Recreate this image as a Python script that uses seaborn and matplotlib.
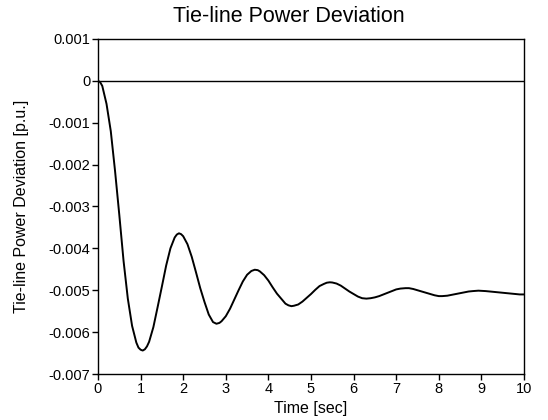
import matplotlib
matplotlib.use("Agg")
import matplotlib.pyplot as plt
import seaborn as sns
import pandas as pd

# Time samples [sec]
time_s = [0.0, 0.05, 0.1, 0.2, 0.3, 0.4, 0.5, 0.6, 0.7, 0.8, 0.9, 0.95, 1.0, 1.05, 1.1, 1.15,
          1.2, 1.3, 1.4, 1.5, 1.6, 1.7, 1.8, 1.85, 1.9, 1.95,
          2.0, 2.1, 2.2, 2.3, 2.4, 2.5, 2.6, 2.7, 2.78, 2.85,
          2.9, 3.0, 3.1, 3.2, 3.3, 3.4, 3.5, 3.6, 3.68, 3.75,
          3.8, 3.9, 4.0, 4.1, 4.2, 4.3, 4.4, 4.47, 4.54,
          4.6, 4.7, 4.8, 4.9, 5.0, 5.1, 5.2, 5.3, 5.37, 5.44,
          5.5, 5.6, 5.7, 5.8, 5.9, 6.0, 6.1, 6.2, 6.3,
          6.4, 6.5, 6.6, 6.7, 6.8, 6.9, 7.0, 7.1, 7.22,
          7.3, 7.4, 7.5, 7.6, 7.7, 7.8, 7.9, 8.0, 8.08,
          8.2, 8.3, 8.4, 8.5, 8.6, 8.7, 8.8, 8.93,
          9.1, 9.3, 9.5, 9.7, 9.9, 10.0]

# Tie-line power deviation in units of 0.001 p.u.
dev_milli = [0.0, -0.03, -0.12, -0.55, -1.2, -2.15, -3.2, -4.3, -5.2, -5.85, -6.25, -6.37, -6.42, -6.44, -6.41, -6.34,
             -6.23, -5.88, -5.40, -4.91, -4.41, -4.00, -3.74, -3.67, -3.64, -3.66,
             -3.71, -3.90, -4.20, -4.57, -4.95, -5.28, -5.58, -5.76, -5.80, -5.78,
             -5.74, -5.62, -5.44, -5.22, -5.00, -4.79, -4.63, -4.54, -4.51, -4.52,
             -4.55, -4.64, -4.77, -4.93, -5.08, -5.20, -5.32, -5.36, -5.38,
             -5.37, -5.34, -5.27, -5.18, -5.09, -4.99, -4.90, -4.85, -4.82, -4.81,
             -4.815, -4.84, -4.89, -4.96, -5.03, -5.09, -5.15, -5.19, -5.20,
             -5.19, -5.17, -5.14, -5.10, -5.06, -5.02, -4.98, -4.96, -4.95,
             -4.95, -4.97, -5.00, -5.03, -5.06, -5.09, -5.12, -5.14, -5.14,
             -5.13, -5.11, -5.09, -5.07, -5.05, -5.03, -5.02, -5.01,
             -5.02, -5.04, -5.06, -5.08, -5.10, -5.10]

x_ticks = [0, 1, 2, 3, 4, 5, 6, 7, 8, 9, 10]
y_ticks = [0.001, 0.0, -0.001, -0.002, -0.003, -0.004, -0.005, -0.006, -0.007]
y_tick_labels = ["0.001", "0", "-0.001", "-0.002", "-0.003", "-0.004", "-0.005", "-0.006", "-0.007"]

title_text = "Tie-line Power Deviation"
x_label = "Time [sec]"
y_label = "Tie-line Power Deviation [p.u.]"

df = pd.DataFrame({"t": time_s, "dP": [v * 0.001 for v in dev_milli]})

sns.set_style("ticks")
plt.rcParams["font.family"] = ["Liberation Sans", "DejaVu Sans"]

fig = plt.figure(figsize=(5.48, 4.2), dpi=100)
ax = fig.add_axes([98 / 548, 1 - 374 / 420, (524 - 98) / 548, (374 - 39) / 420])

sns.lineplot(data=df, x="t", y="dP", ax=ax, color="black", linewidth=1.4)
ax.axhline(0.0, color="black", linewidth=1.0)

ax.set_xlim(0, 10)
ax.set_ylim(-0.007, 0.001)
ax.set_xticks(x_ticks)
ax.set_xticklabels([str(v) for v in x_ticks])
ax.set_yticks(y_ticks)
ax.set_yticklabels(y_tick_labels)

for side in ["top", "right", "left", "bottom"]:
    ax.spines[side].set_visible(True)
    ax.spines[side].set_color("black")
    ax.spines[side].set_linewidth(1.0)

ax.tick_params(axis="both", direction="out", length=4, width=1, colors="black",
               labelsize=10.5, pad=1.5, top=False, right=False)

ax.set_xlabel(x_label, fontsize=11.5, labelpad=4, color="black")
ax.set_ylabel(y_label, fontsize=11.5, labelpad=14, color="black")
fig.text(289 / 548, 1 - 16 / 420, title_text, ha="center", va="center",
         fontsize=15.5, color="black")

fig.savefig("out.png", dpi=100)
